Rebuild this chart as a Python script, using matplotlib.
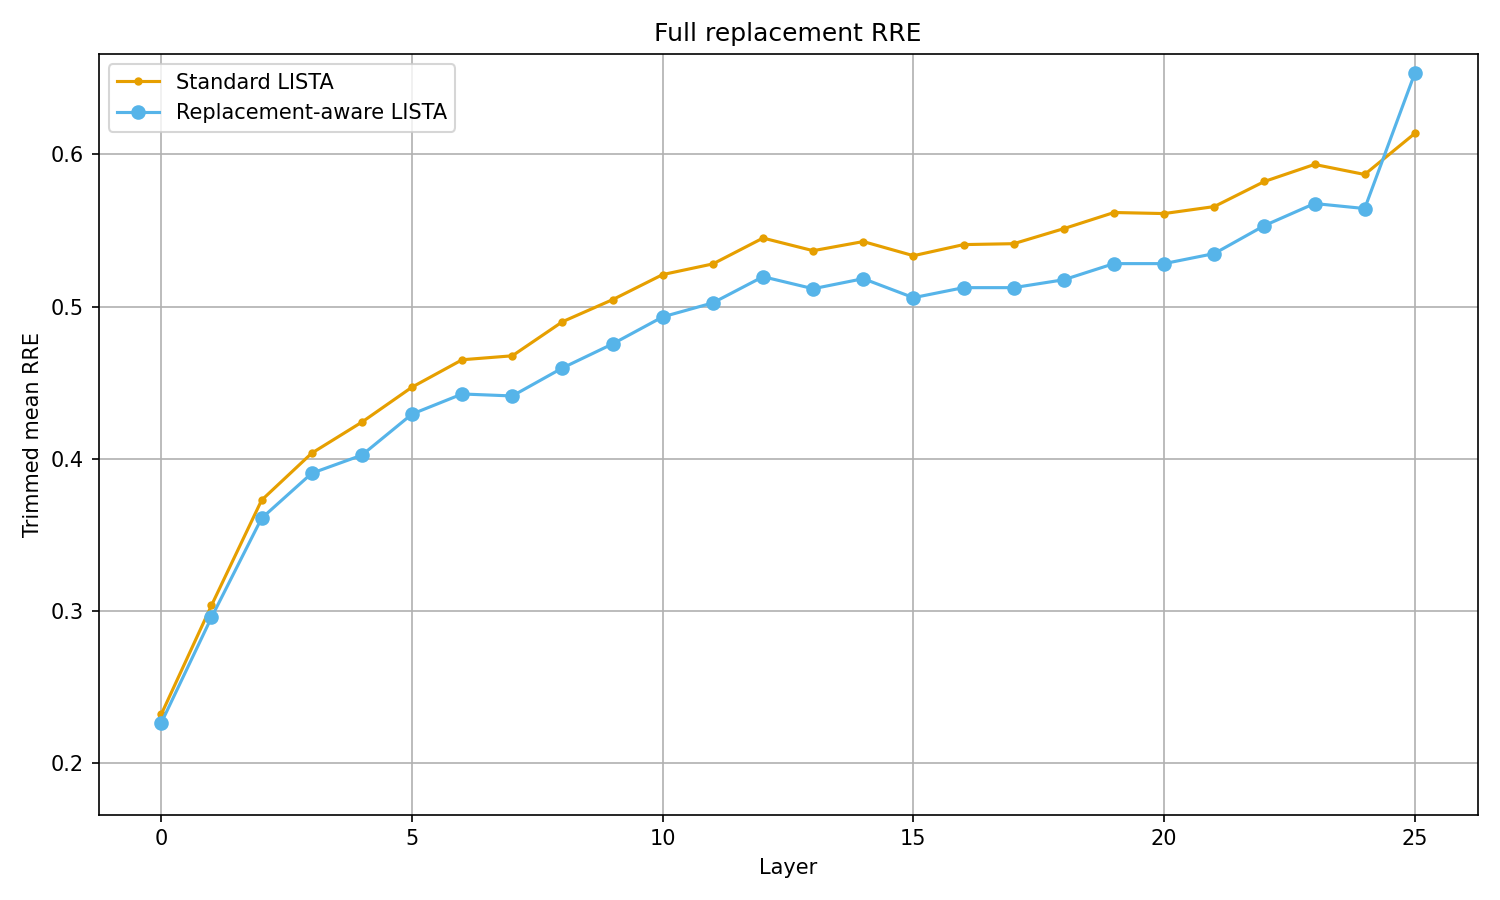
import matplotlib
matplotlib.use("Agg")
import matplotlib.pyplot as plt
import numpy as np

layers = list(range(26))
standard_rre = [0.232, 0.3035, 0.3727, 0.4036, 0.424, 0.447, 0.465, 0.4676, 0.490, 0.5045,
                0.521, 0.528, 0.545, 0.5367, 0.5427, 0.5334, 0.5407, 0.5413, 0.5512, 0.5618,
                0.5611, 0.5657, 0.5822, 0.5934, 0.5868, 0.6138]
aware_rre = [0.2264, 0.2956, 0.3608, 0.3904, 0.4023, 0.4293, 0.4425, 0.4412, 0.4596, 0.4754,
             0.4932, 0.5024, 0.5196, 0.5117, 0.5183, 0.5058, 0.5124, 0.5124, 0.5176, 0.5282,
             0.5282, 0.5348, 0.5532, 0.5677, 0.5644, 0.6534]

fig, ax = plt.subplots(figsize=(10, 6), dpi=150)
ax.plot(layers, standard_rre, marker='.', color='#E69F00', label='Standard LISTA')
ax.plot(layers, aware_rre, marker='o', color='#56B4E9', label='Replacement-aware LISTA')

ax.set_title('Full replacement RRE')
ax.set_xlabel('Layer')
ax.set_ylabel('Trimmed mean RRE')
ax.set_ylim(0.166, 0.666)
ax.grid(True)
ax.legend(loc='upper left')

fig.tight_layout()
fig.savefig('out.png')
